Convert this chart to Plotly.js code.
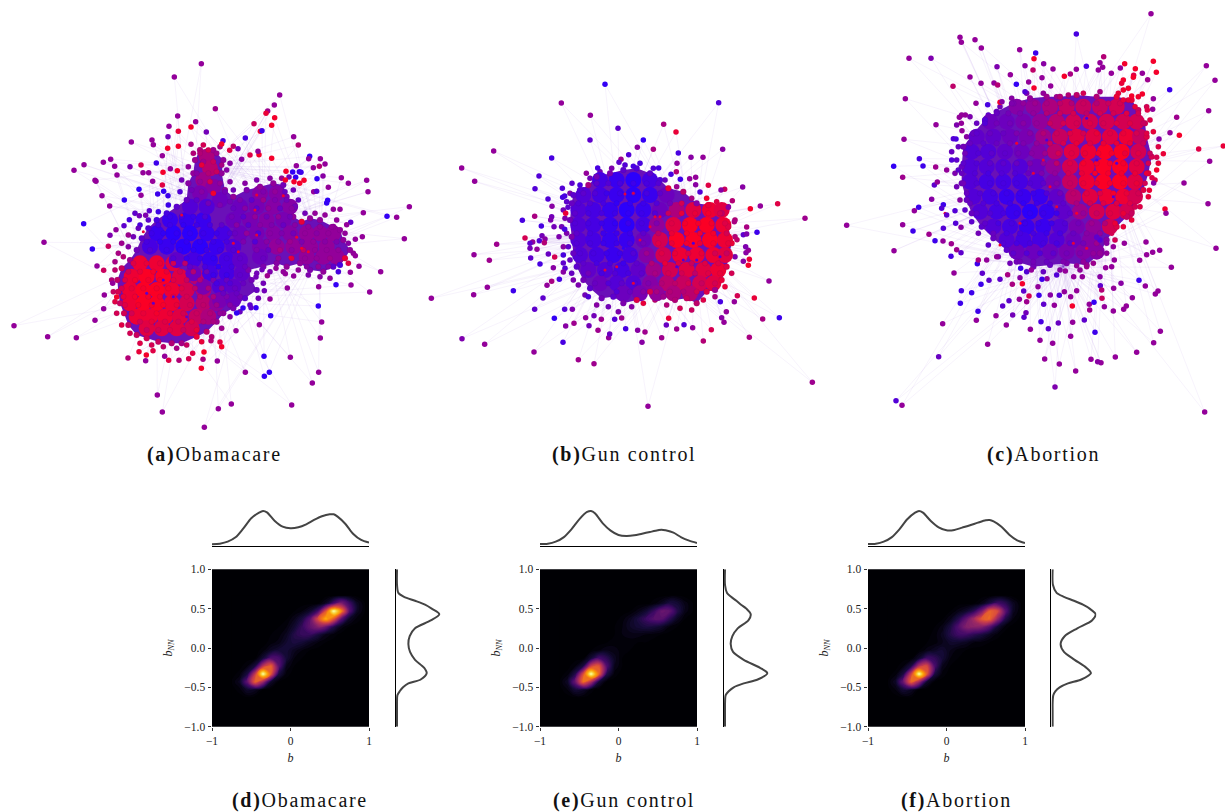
<!DOCTYPE html>
<html><head><meta charset="utf-8">
<script src="https://cdn.plot.ly/plotly-3.0.1.min.js"></script>
<style>html,body{margin:0;padding:0;background:#fff}.annotation-text{letter-spacing:1.7px}</style></head>
<body><div id="chart" style="width:1225px;height:812px"></div>
<script>
// Network nodes: flat runs of x, y, leaning (tenths, -9 blue .. 9 red)
const aOuter=[604,41,0,523,81,0,646,176,1,839,135,0,823,165,0,803,183,1,798,190,8,824,203,9,815,226,9,762,221,5,781,244,9,786,242,-8,736,264,-7,881,260,0,895,285,3,533,198,0,507,229,0,587,215,0,573,231,9,535,244,8,504,260,-3,456,270,0,460,284,0,394,276,0,535,289,9,503,295,9,487,317,0,573,283,2,619,246,-3,669,272,-7,665,282,9,700,289,4,689,301,7,714,296,-3,725,328,-1,750,315,7,777,314,9,774,304,0,815,325,9,929,319,-9,926,326,0,961,326,0,975,342,0,958,349,3,940,353,0,889,347,0,858,364,9,878,366,-9,898,365,-8,903,367,-8,887,382,-9,867,381,-3,856,390,9,882,395,9,899,400,9,912,391,9,951,386,-9,969,378,-1,1024,383,0,1045,400,0,1100,391,0,1104,425,0,1228,470,0,1190,502,0,1161,499,-9,1090,488,0,1087,560,0,1213,566,0,1142,665,0,1109,726,0,1053,705,0,1008,704,-9,956,710,0,1077,649,0,1051,667,0,1066,617,0,1066,568,0,1052,517,-5,1040,524,0,1020,478,0,1000,478,0,983,451,-9,980,459,-9,941,425,0,950,424,-5,985,412,0,
222,361,0,252,344,0,310,337,0,332,328,0,344,349,0,351,375,0,390,350,-2,423,345,6,285,391,0,288,394,0,306,437,0,329,468,0,373,450,-9,417,418,-9,423,436,0,469,339,-8,489,367,9,429,368,0,446,368,0,458,394,0,487,405,7,532,362,9,511,356,0,251,521,-9,132,577,0,277,597,-9,325,589,5,291,648,0,311,661,5,338,700,0,313,735,0,350,741,9,311,776,0,285,811,0,42,827,0,143,860,0,229,863,0,330,556,-2,348,539,0,372,527,-5,388,509,-7,418,497,-3,437,496,-2,448,482,-5,473,432,-8,491,424,-9,504,437,-8,
384,924,3,437,932,0,472,1035,0,487,1086,0,613,1132,0,655,1076,0,694,1062,0,875,1065,0,937,999,0,956,967,0,961,864,0,965,816,0,955,768,-9,871,922,0,792,919,-9,808,967,-9,793,979,-9,736,967,0,652,933,0,604,955,9,612,906,9,609,928,2,578,910,7,566,926,6,537,931,3,506,931,7,494,919,0,459,902,7,439,915,9,417,905,8,665,890,9,660,876,7,633,872,3,708,842,0,778,824,0,812,797,-9,710,789,-9,768,773,-9,729,774,-9,753,773,-5,810,747,0,862,714,0,793,722,-3,802,677,1,768,681,-3,786,659,-3,856,671,0,881,678,0,828,655,0];
const aShell=[345,660,4,335,690,3,340,725,5,345,755,7,350,790,6,365,825,7,390,850,6,420,880,7,455,885,6,490,890,4,530,895,2,560,885,5,605,875,8,635,860,3,665,835,1,690,800,-1,720,785,-4,750,765,-5,775,745,-3,790,700,-3,770,670,-3,810,665,-2,850,665,0,895,660,0,925,675,-2,960,680,-1,990,685,0,1015,665,-7,1045,640,7,1060,610,0,1045,580,-1,1035,550,0,1010,510,0,975,495,0,945,490,0,915,490,-3,895,450,-4,880,420,-3,845,385,1,810,385,-1,770,390,-2,735,400,-1,700,420,-3,690,395,-1,680,360,-1,690,340,-1,660,290,2,610,285,6,580,310,3,565,350,0,545,390,-3,540,425,-6,505,465,-8,475,485,-8,445,510,-5,420,525,-7,400,560,-3,385,590,-1,370,620,3,405,490,-5,415,535,-4,385,555,1,365,580,1,355,610,2,345,635,2];
const aRing=[365,655,5,352,690,4,355,725,6,360,760,5,372,790,6,385,825,5,410,855,5,440,865,6,475,875,5,515,880,3,545,880,2,590,860,8,620,845,4,650,815,1,670,790,0,700,775,-2,735,745,-5,770,720,-4,755,690,-3,745,660,-2,790,650,-2,830,640,-1,860,650,0,900,640,0,930,660,-2,970,665,0,1000,650,-5,1020,645,-7,1035,625,8,1050,600,0,1030,570,0,1020,540,0,1000,530,0,960,510,0,930,505,0,905,515,8,880,500,0,885,470,-3,860,440,-2,850,405,-3,820,400,0,780,410,0,740,420,-2,700,440,0,675,420,0,665,370,0,670,330,0,640,300,1,600,300,3,585,330,1,580,370,0,565,400,-1,560,450,-4,530,470,-5,500,490,-7,470,510,-7,445,535,-6,425,565,-5,410,600,-3,390,630,1];
const aBody=[420,640,7,470,640,7,520,640,6,395,680,7,440,680,8,490,680,8,540,680,6,590,680,3,390,720,7,430,720,8,470,720,8,515,720,7,560,720,5,610,720,2,390,760,7,430,760,8,470,760,8,515,760,7,560,760,5,610,760,3,650,760,0,410,800,7,450,800,7,495,800,7,540,800,6,590,800,4,625,800,2,440,835,6,485,835,6,530,835,6,575,835,5,
510,510,-7,560,510,-7,610,510,-7,470,550,-7,520,550,-8,570,550,-8,620,550,-7,670,550,-6,450,590,-6,500,590,-7,550,590,-8,600,590,-8,650,590,-7,700,590,-5,530,630,-4,580,630,-6,630,630,-7,680,630,-6,720,630,-4,580,670,-3,630,670,-6,680,670,-6,725,670,-4,610,710,-2,660,710,-5,700,710,-4,660,750,-2,700,750,-3,
780,430,-1,830,430,-1,720,470,-3,770,470,-2,820,470,-1,870,470,-1,700,510,-3,750,510,-2,800,510,-1,850,510,-2,720,550,-3,770,550,-2,820,550,-1,870,550,-1,920,550,0,780,590,-2,830,590,0,880,590,0,930,590,0,980,590,0,920,620,0,970,620,0,1010,620,0,960,550,0,1000,550,0,780,620,-3,620,320,2,630,355,3,610,390,1,640,410,-1,600,430,-2,660,450,-3,620,470,-5,570,470,-5];
const aCore=[400,640,7,440,640,8,480,640,8,520,640,6,555,640,4,385,665,6,420,665,8,460,665,9,500,665,8,540,665,6,580,665,3,620,665,-3,375,690,7,405,690,9,445,690,9,480,690,9,520,690,7,560,690,5,600,690,3,640,690,-2,680,690,-4,365,715,6,395,715,8,430,715,9,470,715,9,505,715,9,545,715,7,585,715,4,625,715,2,665,715,-1,705,715,-4,370,740,8,405,740,9,445,740,9,480,740,9,520,740,8,560,740,6,600,740,4,640,740,2,680,740,-2,720,740,-3,375,765,7,415,765,9,455,765,9,490,765,9,530,765,8,570,765,6,610,765,4,650,765,1,690,765,-1,395,790,6,430,790,8,470,790,9,510,790,8,550,790,6,590,790,5,630,790,3,660,790,0,420,815,6,455,815,8,495,815,7,535,815,6,575,815,7,610,815,3,640,815,2,440,840,5,475,840,6,510,840,7,550,840,5,590,840,8,
510,500,-8,545,500,-7,580,500,-8,615,500,-6,475,525,-7,510,525,-8,550,525,-9,590,525,-8,630,525,-7,665,525,-5,455,550,-8,490,550,-9,530,550,-9,570,550,-9,610,550,-8,650,550,-8,690,550,-6,440,575,-7,480,575,-9,520,575,-9,560,575,-9,600,575,-9,640,575,-8,680,575,-7,450,600,-6,500,600,-8,540,600,-9,580,600,-9,620,600,-8,660,600,-8,700,600,-6,520,625,-6,560,625,-8,600,625,-8,640,625,-9,680,625,-7,720,625,-5,570,650,-5,615,650,-7,655,650,-9,695,650,-7,735,650,-4,640,675,-8,680,675,-8,720,675,-5,650,700,-7,690,700,-6,730,700,-4,670,730,-4,710,730,-4,
790,425,-2,825,425,0,855,425,-4,720,450,-2,755,450,-5,790,450,1,825,450,-2,860,450,-3,700,475,-4,735,475,-1,770,475,-5,805,475,0,840,475,-4,875,475,-1,695,500,-3,730,500,-5,765,500,0,800,500,-3,835,500,0,870,500,-3,710,525,-1,745,525,-5,780,525,-1,815,525,-2,850,525,-4,885,525,-1,705,550,-4,740,550,0,775,550,-6,810,550,-1,845,550,-2,880,550,-3,915,550,0,950,550,-1,985,550,0,730,575,-2,765,575,-6,800,575,-1,835,575,-1,870,575,1,905,575,-2,940,575,0,975,575,-1,1010,575,-2,770,600,-2,805,600,-4,840,600,2,875,600,-1,910,600,4,945,600,0,980,600,0,1015,600,0,790,625,-4,835,625,0,875,625,7,915,625,0,950,625,0,990,625,1,920,650,-1,955,650,0,985,650,-1,925,530,0,960,530,0,995,530,0,
600,310,3,625,300,6,650,310,1,610,335,1,640,335,5,665,345,2,605,345,8,625,370,3,650,365,5,590,370,-1,600,395,0,630,395,6,660,400,0,575,420,-3,605,425,-1,640,430,9,675,425,-3,590,450,-5,625,460,-3,660,465,-2,690,455,-3];
const aFleck=[545,495,8,700,580,8,715,605,9,770,555,8,765,480,8,905,595,9,925,605,9,870,622,9,890,562,9,850,437,9,770,435,8,430,545,8,490,690,-7,460,760,-5,520,740,-6,560,800,-4,440,730,-5];
const aHubs=[470,750,570,580,790,520,960,590,620,350];

const bOuter=[555,43,-9,424,99,0,511,136,0,896,98,-6,731,163,2,768,186,8,594,175,-5,510,210,-5,670,210,-9,652,232,-1,700,238,2,626,254,-6,221,243,0,395,264,-7,775,249,-7,908,238,-1,813,262,-1,849,262,0,771,280,0,603,268,1,597,277,-5,125,294,0,164,334,0,357,318,-6,345,356,-6,427,355,-6,456,340,-5,384,387,-6,428,382,-7,434,378,-7,396,409,-1,444,412,-5,344,439,2,437,430,8,307,451,-7,395,440,-3,392,450,-2,364,468,-7,402,470,-3,434,478,-7,417,500,-2,315,504,6,338,516,0,330,520,-5,230,523,1,366,497,-3,358,512,-6,375,507,-1,373,518,3,330,535,-3,351,538,0,385,552,-4,162,554,0,208,571,1,332,564,-5,360,582,-7,404,561,6,400,593,-1,430,579,-5,430,606,-1,418,628,-7,395,634,2,381,646,0,280,662,-8,202,652,0,161,674,0,34,685,0,369,684,-5,344,718,-5,434,718,-6,457,718,-2,403,745,-9,126,806,-2,194,823,0,342,846,0,437,768,-1,462,760,1,429,817,-7,475,869,1,522,881,1,507,767,-3,534,781,1,566,803,0,569,792,-4,497,743,0,522,737,-3,544,748,1,584,748,-6,605,744,1,617,776,-7,653,781,-1,675,786,1,666,817,-1,684,1009,0,725,803,1,739,765,-4,746,745,8,770,777,1,792,764,-6,818,773,0,850,813,3,874,779,6,905,743,-1,912,757,0,919,725,0,943,695,0,952,677,6,901,695,-7,1003,684,8,988,802,2,1028,747,2,1078,743,-8,1177,937,1,1047,633,0,985,586,9,988,568,8,970,574,-1,978,548,-1,985,541,0,977,530,-2,951,509,4,970,494,-5,980,492,-2,980,471,2,1011,487,-8,1155,445,1,991,416,9,1021,408,0,1073,401,7,968,351,-1,937,392,3,943,455,2,925,412,-1,914,358,5,865,346,7,903,360,-1,827,322,0,809,326,0,827,344,-1,840,366,-6,781,328,-8,769,305,3,753,313,-7,716,294,-7,640,289,-7,533,294,-7,499,310,0];
const bShell=[440,395,-5,435,445,-2,440,490,-2,445,530,-5,450,570,-4,455,610,-4,475,645,-2,495,675,-3,530,705,-1,565,710,-3,595,725,-2,635,710,-1,670,700,8,705,690,4,740,705,3,780,715,6,815,720,5,850,690,7,885,680,2,915,650,8,935,610,6,945,560,-2,945,500,3,945,450,3,925,410,0,890,395,7,860,385,9,815,385,2,770,350,1,735,330,-4,700,295,-6,660,280,-7,615,285,-6,575,295,-2,540,305,-3,510,325,-3,480,345,-7,450,370,-2,430,420,-3,425,470,-3,430,530,-1,430,555,-7,435,595,-6,460,630,-2,505,680,-6];
const bRing=[455,400,-4,450,450,-3,455,500,-2,460,550,-4,470,590,-5,490,630,-3,510,655,-5,545,685,-3,580,680,-5,610,700,-2,650,690,7,690,665,6,730,680,1,765,690,3,800,685,5,830,700,4,860,665,7,885,660,1,905,630,8,920,590,7,935,520,8,925,470,7,905,430,4,865,405,8,830,400,-1,790,365,4,745,355,8,720,330,-6,690,310,-5,650,295,-6,610,300,-5,570,310,-2,530,320,-3,505,345,2,480,360,-6,460,375,-5];
const bBody=[540,330,-6,590,330,-7,640,330,-8,690,330,-6,490,375,-5,540,375,-6,590,375,-7,640,375,-8,690,375,-7,740,375,-3,475,420,-5,520,420,-6,570,420,-7,620,420,-8,670,420,-7,720,420,-3,770,420,2,820,420,6,870,420,7,905,420,6,475,465,-5,520,465,-6,570,465,-7,620,465,-8,670,465,-6,710,465,0,760,465,6,810,465,8,860,465,8,910,465,7,475,510,-5,520,510,-6,570,510,-7,620,510,-7,670,510,-3,720,510,5,770,510,8,820,510,8,870,510,8,915,510,7,480,555,-5,530,555,-6,580,555,-7,630,555,-6,680,555,-1,730,555,5,780,555,7,830,555,7,880,555,7,915,555,6,505,600,-4,555,600,-5,605,600,-6,655,600,-4,700,600,1,750,600,5,800,600,6,850,600,6,895,600,7,540,640,-3,590,640,-5,640,640,-5,690,640,-1,740,640,3,790,640,4,840,640,5,880,640,6,610,670,-3,660,670,-2,710,670,0,760,670,2,810,670,3];
const bCore=[530,340,-5,565,340,-6,600,340,-7,640,340,-8,680,340,-7,715,340,-6,490,370,-5,525,370,-6,560,370,-8,600,370,-8,640,370,-8,680,370,-7,720,370,-5,475,400,-6,510,400,-6,550,400,-7,590,400,-9,630,400,-9,670,400,-8,710,400,-6,750,400,-3,785,400,6,465,430,-5,505,430,-7,545,430,-7,585,430,-8,625,430,-9,665,430,-8,705,430,-6,745,430,5,785,430,8,825,430,8,865,430,9,900,430,6,465,460,-6,505,460,-7,545,460,-8,585,460,-9,625,460,-8,665,460,-7,710,460,-2,755,460,7,795,460,9,835,460,9,875,460,9,915,460,7,470,490,-5,510,490,-7,550,490,-8,590,490,-8,630,490,-8,670,490,-5,715,490,4,755,490,8,800,490,9,840,490,9,880,490,9,920,490,6,470,520,-6,510,520,-7,550,520,-8,590,520,-8,630,520,-7,670,520,-3,715,520,7,755,520,8,800,520,9,840,520,8,880,520,9,925,520,8,480,550,-6,520,550,-7,560,550,-8,600,550,-8,640,550,-6,680,550,1,725,550,7,765,550,8,805,550,7,845,550,8,885,550,6,920,550,5,490,580,-5,530,580,-7,570,580,-7,610,580,-8,650,580,-5,695,580,3,735,580,8,775,580,7,815,580,5,855,580,7,895,580,7,505,610,-3,545,610,-7,585,610,-6,625,610,-7,665,610,-5,705,610,2,745,610,6,785,610,6,825,610,4,865,610,7,900,610,8,525,640,-4,565,640,-6,605,640,-5,645,640,-6,685,640,-2,725,640,3,765,640,4,805,640,6,845,640,5,885,640,6,590,665,-6,630,665,-4,670,665,-1,710,665,2,750,665,3,790,665,3,830,665,6];
const bFleck=[615,372,8,640,370,7,690,470,8,705,440,8,660,510,7,590,590,8,555,600,7,640,640,8,720,440,9,820,520,-7,790,570,-6,770,590,-6,830,570,-7,900,560,-7,600,560,-9,610,535,-9];
const bHubs=[600,480,820,510];

const cOuter=[963,41,0,739,102,-7,390,112,0,394,127,0,435,119,0,454,144,0,237,175,0,303,175,-2,569,149,0,617,159,-8,612,176,9,641,191,-1,669,207,0,585,197,-1,501,200,-2,609,210,4,541,224,0,420,231,0,453,250,0,492,249,0,503,255,3,369,259,4,559,253,-9,596,246,0,636,233,0,612,264,9,662,258,0,585,275,-6,226,296,0,703,229,9,721,222,2,739,208,0,769,199,-7,821,170,3,810,188,0,818,202,0,805,210,0,844,220,0,871,204,0,884,191,9,970,184,9,916,206,9,937,220,0,911,226,7,979,217,9,953,239,1,1129,197,0,1155,241,0,1019,269,-8,1136,332,0,1040,352,1,1020,398,0,1048,406,9,1106,447,7,1180,438,8,1139,484,0,1062,549,0,1134,611,0,1005,627,9,1008,640,0,1158,745,0,989,751,0,1024,802,0,968,757,0,948,726,0,950,764,0,929,781,0,927,841,-8,946,858,0,984,873,0,976,882,0,907,893,0,991,994,0,971,1028,0,920,1057,0,1124,1236,0,856,1071,0,813,1088,0,803,1085,-1,783,1078,0,737,1113,0,688,1092,0,644,1077,0,675,1161,-2,668,1030,0,722,1009,0,630,1021,0,795,997,-8,763,960,-5,728,967,0,685,969,-4,655,986,-5,633,965,-7,601,988,0,529,975,0,473,1033,0,439,961,0,498,947,0,338,971,0,326,1070,-4,198,1202,-6,216,1216,0,192,752,0,372,819,0,391,910,-8,444,934,-8,394,872,-7,425,878,-8,453,853,-8,477,841,-5,457,820,-5,442,791,-8,50,676,0,218,674,0,249,693,-8,253,632,0,266,622,-8,297,703,1,315,722,-8,339,723,0,364,731,1,363,769,-7,380,749,1,393,758,-5,340,685,-6,377,670,-6,393,682,-1,305,598,-1,340,614,-8,335,625,-6,350,645,-5,375,632,-6,218,532,1,191,499,-9,279,498,-8,268,476,-7,317,501,1,313,555,-5,322,546,0,350,510,0,365,480,-6,222,418,0,318,374,0,378,417,-7,370,416,-6,396,392,0,438,310,0,406,345,0,388,352,0,394,370,0,473,314,-7,510,307,9,516,305,-1,910,232,9,880,240,9,875,250,8,905,288,9,937,282,9,970,296,0,968,328,0,952,330,7,1000,461,8,980,510,9,966,533,7,958,571,8,971,549,-1,980,472,6,987,417,-1,
533,824,2,510,838,-5,547,853,2,570,833,-1,577,851,9,581,873,-5,624,860,0,597,888,6,627,886,-8,641,913,-5,661,885,-1,673,916,0,688,886,-6,703,875,0,727,918,9,778,913,0,792,907,-9,779,930,1,823,920,0,850,933,0,881,928,0,889,918,0,851,865,0,873,850,-1,811,857,-5,815,870,3,816,895,5,740,872,0,722,890,0,731,830,0,757,830,0,810,830,-1,706,813,0,680,825,-6,651,836,0,636,838,-8,604,810,0,572,805,-8,518,918,-5,537,902,-5,568,898,0,590,905,1,548,945,-3,588,938,-3,582,952,-5,500,770,0,470,780,0,445,780,2,845,800,0,827,803,0,770,800,1,740,797,0,853,780,0,883,730,0,845,700,6,810,720,-6,800,712,-5,850,740,0];
const cShell=[385,440,-4,380,480,-5,375,520,-2,380,560,-3,390,600,-1,405,630,-5,425,665,-5,445,700,-3,475,735,-5,505,770,-2,540,790,-3,590,815,-6,640,815,-4,690,810,-1,750,810,0,790,790,1,830,760,0,855,720,6,880,680,8,905,660,8,930,620,7,955,590,8,975,540,7,985,490,8,985,440,7,970,395,8,960,360,7,950,320,6,925,290,9,895,265,9,865,280,8,810,275,2,760,280,6,715,285,3,680,290,1,640,280,0,590,280,-2,545,295,-1,510,320,-3,475,345,-5,440,370,-4,410,410,-1,365,455,-4,385,510,-5,395,345,0,380,375,-2,420,350,-2];
const cRing=[400,440,-3,395,500,-4,395,550,-3,410,600,-4,425,640,-4,455,680,-5,490,715,-4,530,750,-5,560,785,-3,610,800,-3,660,795,-4,710,790,-2,770,795,0,810,760,0,830,720,-1,860,680,7,890,650,5,915,620,6,940,570,7,955,520,8,965,470,6,950,410,7,945,370,6,925,330,5,905,300,8,860,290,8,800,290,3,740,285,4,690,290,3,650,290,1,600,295,0,550,310,-2,500,335,-4,465,360,-6,430,400,-4];
const cBody=[560,320,-1,610,320,0,660,320,2,710,320,4,760,320,4,810,320,4,860,320,5,480,365,-3,530,365,-3,580,365,-2,630,365,0,680,365,3,730,365,5,780,365,5,830,365,5,880,365,5,920,365,5,440,410,-4,490,410,-4,540,410,-3,590,410,-2,640,410,1,690,410,4,740,410,6,790,410,6,840,410,6,890,410,7,930,410,4,425,455,-5,475,455,-5,525,455,-4,575,455,-3,625,455,-1,675,455,3,725,455,6,775,455,7,825,455,8,875,455,8,925,455,5,420,500,-5,470,500,-5,520,500,-5,570,500,-5,620,500,-3,670,500,0,720,500,5,770,500,7,820,500,8,870,500,8,920,500,6,420,545,-5,470,545,-6,520,545,-6,570,545,-6,620,545,-5,670,545,-2,720,545,4,770,545,7,820,545,8,870,545,8,915,545,6,430,590,-5,480,590,-6,530,590,-7,580,590,-7,630,590,-7,680,590,-4,730,590,3,780,590,6,830,590,7,880,590,7,915,590,5,450,635,-5,500,635,-6,550,635,-7,600,635,-8,650,635,-7,700,635,-4,750,635,1,800,635,5,850,635,6,890,635,5,490,680,-5,540,680,-6,590,680,-7,640,680,-7,690,680,-5,740,680,-2,790,680,0,840,680,5,530,720,-5,580,720,-6,630,720,-6,680,720,-5,730,720,-3,780,720,-1,560,755,-3,610,755,-3,660,755,-3,710,755,-2,760,755,-1,800,755,-1];
const cCore=[545,310,-2,580,310,0,615,310,1,650,310,2,690,310,4,725,310,3,760,310,5,800,310,3,835,310,5,870,310,6,500,340,-4,535,340,-3,570,340,-2,610,340,0,650,340,3,690,340,5,730,340,6,770,340,4,810,340,6,850,340,6,890,340,7,925,340,6,465,370,-6,500,370,-3,540,370,-3,580,370,-1,620,370,0,660,370,5,700,370,6,740,370,6,780,370,7,820,370,6,860,370,7,900,370,7,940,370,5,440,400,-5,480,400,-4,520,400,-4,560,400,-2,600,400,-1,640,400,3,680,400,5,720,400,7,760,400,6,800,400,8,840,400,7,880,400,8,920,400,6,950,400,7,420,430,-4,460,430,-5,500,430,-4,540,430,-3,580,430,-2,620,430,0,660,430,5,700,430,6,740,430,8,780,430,7,820,430,8,860,430,8,900,430,8,940,430,5,405,460,-3,445,460,-6,485,460,-5,525,460,-5,565,460,-3,605,460,-1,645,460,1,685,460,6,725,460,7,765,460,8,805,460,9,845,460,9,885,460,8,925,460,7,960,460,5,400,490,-5,440,490,-6,480,490,-5,520,490,-5,560,490,-4,600,490,-2,640,490,0,680,490,4,720,490,7,760,490,9,800,490,9,840,490,9,880,490,9,920,490,7,955,490,6,
395,520,-4,435,520,-6,475,520,-7,515,520,-6,555,520,-6,595,520,-4,635,520,-2,675,520,0,715,520,6,755,520,8,795,520,9,835,520,9,875,520,9,915,520,8,950,520,8,400,550,-3,440,550,-6,480,550,-7,520,550,-7,560,550,-7,600,550,-6,640,550,-5,680,550,-1,720,550,5,760,550,8,800,550,8,840,550,9,880,550,9,920,550,8,945,550,6,410,580,-4,450,580,-6,490,580,-7,530,580,-8,570,580,-8,610,580,-8,650,580,-6,690,580,-3,730,580,4,770,580,7,810,580,7,850,580,9,890,580,8,925,580,6,420,610,-4,460,610,-6,500,610,-7,540,610,-8,580,610,-9,620,610,-8,660,610,-8,700,610,-5,740,610,2,780,610,6,820,610,7,860,610,7,900,610,7,440,640,-5,480,640,-6,520,640,-7,560,640,-8,600,640,-9,640,640,-8,680,640,-8,720,640,-5,760,640,0,800,640,5,840,640,7,880,640,8,905,640,5,465,670,-5,505,670,-7,545,670,-7,585,670,-8,625,670,-8,665,670,-8,705,670,-6,745,670,-3,785,670,1,825,670,3,855,670,8,490,700,-4,530,700,-7,570,700,-7,610,700,-7,650,700,-8,690,700,-7,730,700,-4,770,700,-1,810,700,0,520,730,-6,560,730,-7,600,730,-7,640,730,-7,680,730,-7,720,730,-5,760,730,-3,800,730,1,830,730,-1,550,760,-5,590,760,-6,630,760,-6,670,760,-5,710,760,-3,750,760,-2,790,760,0,570,785,-3,610,785,-3,650,785,-4,700,785,-2,760,785,0,880,270,9,895,300,8,915,320,8,880,300,8];
const cFleck=[510,735,9,770,745,8,730,730,8,345,640,9,640,480,8,610,520,8,560,430,9,660,560,9,570,670,7,680,620,8,740,640,9,800,480,-7,770,355,-7,860,490,-6,850,590,-6,650,420,-7];
const cHubs=[600,570,830,480,700,800];

// Joint density panels: grid nodes and density (percent of panel peak), read by eye
const gridB=[-.75,-.65,-.55,-.45,-.35,-.25,-.15,-.05,.05,.15,.25,.35,.45,.55,.65,.75,.85,.95];
const gridBNN=[-.63,-.53,-.43,-.33,-.23,-.13,-.03,.07,.17,.27,.37,.47,.57,.67];
const densD=[
[0,0,1,0,0,0,0,0,0,0,0,0,0,0,0,0,0,0],
[0,2,8,6,1,0,0,0,0,0,0,0,0,0,0,0,0,0],
[1,6,28,65,42,8,1,0,0,0,0,0,0,0,0,0,0,0],
[0,2,12,52,100,62,12,2,0,0,0,0,0,0,0,0,0,0],
[0,0,3,12,50,65,26,5,1,0,0,0,0,0,0,0,0,0],
[0,0,0,1,10,24,22,10,3,1,0,0,0,0,0,0,0,0],
[0,0,0,0,2,7,10,10,6,3,1,0,0,0,0,0,0,0],
[0,0,0,0,0,2,4,9,12,10,6,3,1,0,0,0,0,0],
[0,0,0,0,0,1,2,6,14,18,18,12,5,2,0,0,0,0],
[0,0,0,0,0,0,1,3,9,18,28,36,30,14,4,1,0,0],
[0,0,0,0,0,0,0,1,5,12,26,58,82,62,26,7,2,0],
[0,0,0,0,0,0,0,0,1,3,8,20,60,100,72,26,6,1],
[0,0,0,0,0,0,0,0,0,0,0,1,6,22,34,20,6,1],
[0,0,0,0,0,0,0,0,0,0,0,0,0,0,1,1,0,0]];
const densE=[
[0,0,1,1,0,0,0,0,0,0,0,0,0,0,0,0,0,0],
[0,3,10,8,2,0,0,0,0,0,0,0,0,0,0,0,0,0],
[1,7,30,68,46,10,1,0,0,0,0,0,0,0,0,0,0,0],
[0,2,14,58,100,66,14,2,0,0,0,0,0,0,0,0,0,0],
[0,0,3,12,54,62,24,5,1,0,0,0,0,0,0,0,0,0],
[0,0,0,1,10,22,16,6,1,0,0,0,0,0,0,0,0,0],
[0,0,0,0,1,3,5,4,2,1,0,0,0,0,0,0,0,0],
[0,0,0,0,0,0,1,2,2,2,1,1,0,0,0,0,0,0],
[0,0,0,0,0,0,1,1,3,4,4,3,2,1,0,0,0,0],
[0,0,0,0,0,0,0,1,3,7,10,12,11,8,3,1,0,0],
[0,0,0,0,0,0,0,0,2,6,12,19,25,26,16,6,1,0],
[0,0,0,0,0,0,0,0,0,1,4,9,18,30,28,14,4,1],
[0,0,0,0,0,0,0,0,0,0,0,0,2,6,12,10,4,1],
[0,0,0,0,0,0,0,0,0,0,0,0,0,0,1,1,0,0]];
const densF=[
[0,0,1,1,0,0,0,0,0,0,0,0,0,0,0,0,0,0],
[0,3,10,7,1,0,0,0,0,0,0,0,0,0,0,0,0,0],
[1,7,30,66,42,8,1,0,0,0,0,0,0,0,0,0,0,0],
[0,2,12,54,100,62,12,2,0,0,0,0,0,0,0,0,0,0],
[0,0,3,12,48,58,22,5,1,0,0,0,0,0,0,0,0,0],
[0,0,0,1,8,20,17,10,3,1,0,0,0,0,0,0,0,0],
[0,0,0,0,1,4,7,9,5,2,1,0,0,0,0,0,0,0],
[0,0,0,0,0,1,2,5,8,8,6,3,2,1,0,0,0,0],
[0,0,0,0,0,0,2,6,14,20,20,16,12,6,2,0,0,0],
[0,0,0,0,0,0,1,4,12,24,36,38,36,26,10,2,0,0],
[0,0,0,0,0,0,0,1,5,14,28,44,62,66,40,14,3,0],
[0,0,0,0,0,0,0,0,1,4,8,16,34,64,58,26,6,1],
[0,0,0,0,0,0,0,0,0,0,0,1,4,12,20,16,6,1],
[0,0,0,0,0,0,0,0,0,0,0,0,0,0,1,1,0,0]];

// Marginal densities
const margB=[-1,-.9,-.8,-.7,-.6,-.5,-.4,-.35,-.3,-.2,-.1,0,.1,.2,.3,.4,.5,.55,.6,.7,.8,.9,1];
const margTopD=[.05,.07,.13,.26,.53,.83,1,1.05,1.01,.75,.58,.53,.56,.65,.78,.89,.95,.95,.88,.66,.36,.18,.1];
const margTopE=[.06,.07,.13,.26,.5,.8,1.02,1.05,.98,.68,.46,.33,.3,.32,.37,.42,.47,.49,.47,.4,.26,.16,.09];
const margTopF=[.06,.07,.13,.26,.5,.8,1,1.05,1,.75,.56,.47,.48,.55,.62,.7,.77,.78,.74,.58,.34,.17,.09];
const margBNN=[-1,-.8,-.7,-.6,-.55,-.5,-.45,-.4,-.32,-.25,-.15,-.05,.05,.15,.25,.35,.43,.5,.55,.6,.65,.7,.8,1];
const margRightD=[.04,.04,.04,.05,.12,.22,.38,.75,.93,.85,.58,.43,.38,.42,.58,1.05,1.31,1.08,.88,.58,.25,.08,.04,.04];
const margRightE=[.04,.04,.04,.06,.15,.3,.6,1.02,1.31,1.08,.6,.28,.21,.26,.42,.74,.81,.68,.52,.38,.22,.1,.04,.04];
const margRightF=[.04,.04,.04,.06,.12,.25,.5,.9,1.19,1.05,.7,.38,.28,.4,.78,1.22,1.33,1.15,.95,.68,.38,.16,.05,.04];

const captionsTop=['<b>(a)</b>Obamacare','<b>(b)</b>Gun control','<b>(c)</b>Abortion'];
const captionsBottom=['<b>(d)</b>Obamacare','<b>(e)</b>Gun control','<b>(f)</b>Abortion'];

const W=1225,H=812,SERIF='"Liberation Serif",serif';
const hd=(a,b)=>[a/W,b/W], vd=(a,b)=>[1-b/H,1-a/H];
const leanScale=[[0,'#2800ff'],[.5,'#93009a'],[1,'#ff0020']];
const inferno=[[0,'#000004'],[.1,'#160b39'],[.2,'#420a68'],[.3,'#6a176e'],[.4,'#932667'],[.5,'#bc3754'],[.6,'#dd513a'],[.7,'#f37819'],[.8,'#fca50a'],[.9,'#f6d746'],[1,'#fcffa4']];
function triples(f,gain){const o={x:[],y:[],c:[]};for(let i=0;i+2<f.length;i+=3){o.x.push(f[i]);o.y.push(f[i+1]);o.c.push(Math.max(-1,Math.min(1,f[i+2]/10*(gain||1))));}return o;}
function nodes(f,size,xa,ya,edge,gain){const t=triples(f,gain);return {type:'scatter',mode:'markers',x:t.x,y:t.y,xaxis:xa,yaxis:ya,cliponaxis:false,hoverinfo:'skip',showlegend:false,
  marker:{size:size,color:t.c,cmin:-1,cmax:1,colorscale:leanScale,showscale:false,line:{width:edge?.3:0,color:'rgba(50,0,90,0.3)'}}};}
function links(f,hubs,xa,ya){const t=triples(f),x=[],y=[],n=hubs.length/2;
  t.x.forEach((px,i)=>{[i%n,(i+1)%n].forEach(h=>{x.push(px,hubs[2*h],null);y.push(t.y[i],hubs[2*h+1],null);});});
  return {type:'scatter',mode:'lines',x:x,y:y,xaxis:xa,yaxis:ya,cliponaxis:false,hoverinfo:'skip',showlegend:false,line:{width:.6,color:'rgba(140,90,210,0.12)'}};}
function outline(f,xa,ya){const t=triples(f);return {type:'scatter',mode:'lines',fill:'toself',fillcolor:'#6a10b8',x:t.x.concat(t.x[0]),y:t.y.concat(t.y[0]),xaxis:xa,yaxis:ya,cliponaxis:false,hoverinfo:'skip',showlegend:false,line:{width:0}};}

const nets=[[aOuter,aBody,aCore,aFleck,aHubs,aRing,aShell],[bOuter,bBody,bCore,bFleck,bHubs,bRing,bShell],[cOuter,cBody,cCore,cFleck,cHubs,cRing,cShell]];
const data=[];
const layout={width:W,height:H,margin:{l:0,r:0,t:0,b:0},paper_bgcolor:'#fff',plot_bgcolor:'rgba(0,0,0,0)',showlegend:false,shapes:[],annotations:[]};
const hidden=(dom,range)=>({domain:dom,range:range,visible:false,fixedrange:true});
const netBoxes=[[0,420,1260,50,440,1170],[420,820,1200,70,420,1050],[830,1225,1185,0,420,1260]];
nets.forEach((n,i)=>{
  const k=i+1,xa='x'+k,ya='y'+k,b=netBoxes[i];
  layout['xaxis'+k]=hidden(hd(b[0],b[1]),[0,b[2]]);
  layout['yaxis'+k]=hidden(vd(b[3],b[4]),[b[5],0]);
  data.push(links(n[0],n[4],xa,ya),outline(n[5],xa,ya),nodes(n[6],5.5,xa,ya,true),nodes(n[1],16,xa,ya,false,1.2),nodes(n[5],6,xa,ya,true),nodes(n[2],5.5,xa,ya,true),nodes(n[3],3,xa,ya,false),nodes(n[0],5.5,xa,ya,false));
});
const dens=[densD,densE,densF],tops=[margTopD,margTopE,margTopF],rights=[margRightD,margRightE,margRightF];
const heatLeft=[212,540,868],rightBase=[395.7,723.7,1051.3];
const HT=569.3,HB=726.7,HW=157;
const axFont={family:SERIF,size:11.5,color:'#222'};
dens.forEach((z,i)=>{
  const k=i+4,xa='x'+k,ya='y'+k,l=heatLeft[i];
  layout['xaxis'+k]={domain:hd(l,l+HW),range:[-1,1],anchor:ya,fixedrange:true,showgrid:false,zeroline:false,showline:false,ticks:'outside',ticklen:3.5,tickwidth:.8,tickcolor:'#000',tickvals:[-1,0,1],tickfont:axFont,title:{text:'<i>b</i>',font:{family:SERIF,size:12,color:'#222'},standoff:7}};
  layout['yaxis'+k]={domain:vd(HT,HB),range:[-1,1],anchor:xa,fixedrange:true,showgrid:false,zeroline:false,showline:false,ticks:'outside',ticklen:3.5,tickwidth:.8,tickcolor:'#000',tickvals:[-1,-.5,0,.5,1],tickformat:'.1f',tickfont:axFont,title:{text:'<i>b<sub>NN</sub></i>',font:{family:SERIF,size:12,color:'#222'},standoff:9}};
  layout.shapes.push({type:'rect',layer:'below',xref:xa+' domain',yref:ya+' domain',x0:0,x1:1,y0:0,y1:1,fillcolor:'#000004',line:{width:0}});
  data.push({type:'contour',x:gridB,y:gridBNN,z:z,xaxis:xa,yaxis:ya,zmin:0,zmax:100,autocontour:false,contours:{start:1,end:100,size:2,coloring:'fill',showlines:false},line:{width:0,smoothing:1.3},colorscale:inferno,showscale:false,hoverinfo:'skip'});
  const t=i+7;
  layout['xaxis'+t]={domain:hd(l,l+HW),range:[-1,1],anchor:'y'+t,fixedrange:true,showgrid:false,zeroline:false,showline:true,linecolor:'#000',linewidth:1,ticks:'',showticklabels:false};
  layout['yaxis'+t]={domain:vd(509.3,546),range:[0,1.1],anchor:'x'+t,visible:false,fixedrange:true};
  data.push({type:'scatter',mode:'lines',x:margB,y:tops[i],xaxis:'x'+t,yaxis:'y'+t,cliponaxis:false,hoverinfo:'skip',line:{color:'#444',width:2,shape:'spline',smoothing:.8}});
  const r=i+10,rb=rightBase[i];
  layout['xaxis'+r]={domain:hd(rb,rb+45),range:[0,1.35],anchor:'y'+r,visible:false,fixedrange:true};
  layout['yaxis'+r]={domain:vd(HT,HB),range:[-1,1],anchor:'x'+r,fixedrange:true,showgrid:false,zeroline:false,showline:true,linecolor:'#000',linewidth:1,ticks:'',showticklabels:false};
  data.push({type:'scatter',mode:'lines',x:rights[i],y:margBNN,xaxis:'x'+r,yaxis:'y'+r,cliponaxis:false,hoverinfo:'skip',line:{color:'#444',width:2,shape:'spline',smoothing:.8}});
});
const capTopX=[214,624,1043],capBotX=[300,624,956];
const capFont={family:SERIF,size:20,color:'#111'};
captionsTop.forEach((t,i)=>layout.annotations.push({text:t,xref:'paper',yref:'paper',x:capTopX[i]/W,y:1-454/H,xanchor:'center',yanchor:'middle',showarrow:false,font:capFont}));
captionsBottom.forEach((t,i)=>layout.annotations.push({text:t,xref:'paper',yref:'paper',x:capBotX[i]/W,y:1-800/H,xanchor:'center',yanchor:'middle',showarrow:false,font:capFont}));
Plotly.newPlot('chart',data,layout,{displayModeBar:false,staticPlot:true});
</script></body></html>
